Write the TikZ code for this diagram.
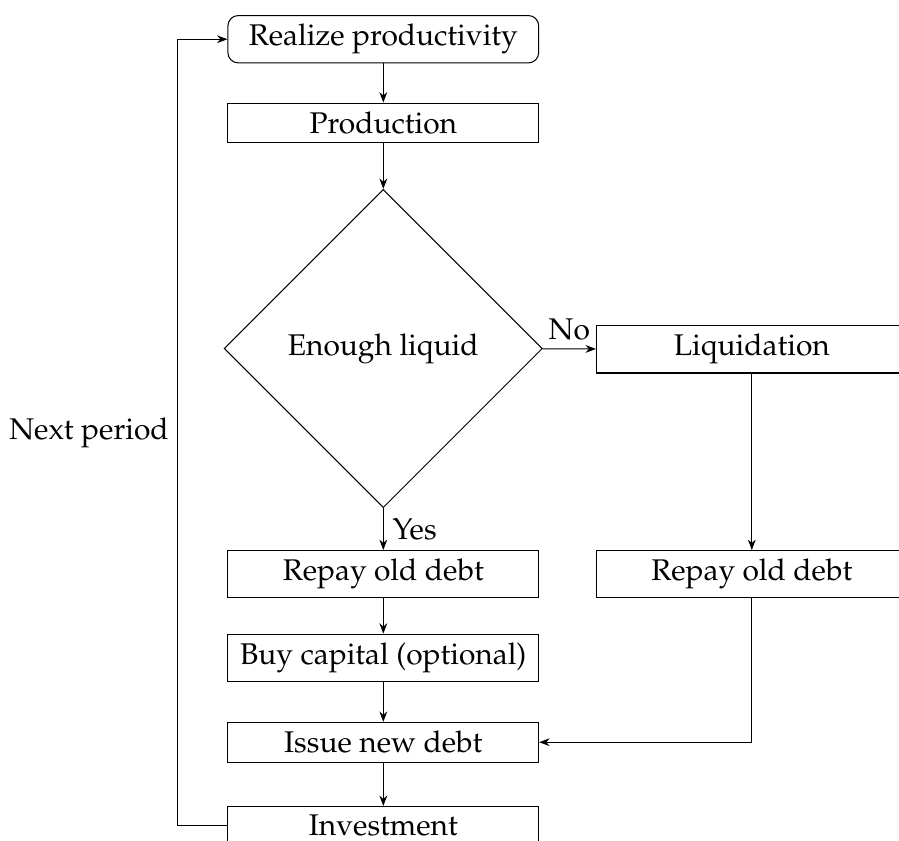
\documentclass[tikz,border=0pt]{standalone}
\usepackage[T1]{fontenc}
\usepackage{mathpazo}
\usetikzlibrary{shapes.geometric,arrows.meta}
\begin{document}
\begin{tikzpicture}[
    font=\fontsize{11.5}{14}\selectfont,
    block/.style={draw, rectangle, minimum width=4.2cm},
    decision/.style={draw, diamond, minimum size=4.3cm, inner sep=0pt},
    line/.style={-{Stealth[length=4pt,width=3pt]}}]
  \useasboundingbox (0,0) rectangle (12.149,-11.365);
  % main column
  \node[block, rounded corners] (realize) at (5.18,-0.53) {Realize productivity};
  \node[block] (prod) at (5.18,-1.66) {Production};
  \node[decision] (check) at (5.18,-4.71) {Enough liquid};
  \node[block] (repay1) at (5.18,-7.76) {Repay old debt};
  \node[block] (buy) at (5.18,-8.89) {Buy capital (optional)};
  \node[block] (issue) at (5.18,-10.03) {Issue new debt};
  \node[block] (invest) at (5.18,-11.16) {Investment};
  % liquidation branch
  \node[block] (liq) at (10.16,-4.72) {Liquidation};
  \node[block] (repay2) at (10.16,-7.76) {Repay old debt};
  \draw[line] (realize) -- (prod);
  \draw[line] (prod) -- (check);
  \draw[line] (check) -- node[above] {No} (liq);
  \draw[line] (check) -- node[right] {Yes} (repay1);
  \draw[line] (repay1) -- (buy);
  \draw[line] (buy) -- (issue);
  \draw[line] (issue) -- (invest);
  \draw[line] (liq) -- (repay2);
  \draw[line] (repay2) |- (issue);
  \draw[line] (invest.west) -- ++(-0.67,0) |- node[pos=0.25, left] {Next period} (realize.west);
\end{tikzpicture}
\end{document}
